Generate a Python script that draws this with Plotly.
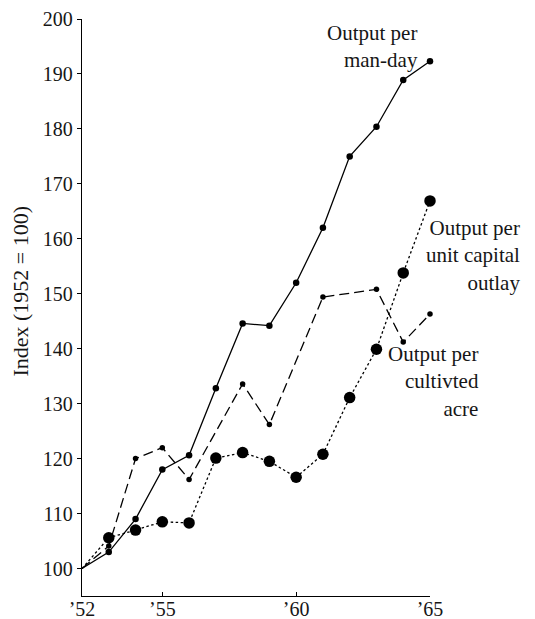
import plotly.graph_objects as go

# ---- data ----
years = [1952, 1953, 1954, 1955, 1956, 1957, 1958, 1959, 1960, 1961, 1962, 1963, 1964, 1965]
output_per_man_day = [100, 103, 109, 118, 120.6, 132.8, 144.6, 144.2, 152, 162, 175, 180.4, 188.9, 192.3]

capital_years = [1952, 1953, 1954, 1955, 1956, 1958, 1959, 1961, 1963, 1964, 1965]
output_per_capital = [100, 104.1, 120, 122, 116.2, 133.6, 126.2, 149.4, 150.8, 141.2, 146.3]

output_per_acre = [100, 105.6, 107, 108.5, 108.3, 120.1, 121.1, 119.5, 116.6, 120.8, 131.1, 139.9, 153.8, 166.9]

x_tickvals = [1952, 1955, 1960, 1965]
x_ticktext = ["’52", "’55", "’60", "’65"]
y_tickvals = [100, 110, 120, 130, 140, 150, 160, 170, 180, 190, 200]

FONT = "Liberation Serif"
INK = "#161616"

fig = go.Figure()

def mk(size, n):
    return dict(color="black", opacity=1, size=[0] + [size] * (n - 1), line=dict(width=0))

fig.add_trace(go.Scatter(
    x=years, y=output_per_man_day, mode="lines+markers", name="Output per man-day",
    line=dict(color="black", width=1.3),
    marker=mk(6.5, len(years)),
    cliponaxis=False,
))
fig.add_trace(go.Scatter(
    x=capital_years, y=output_per_capital, mode="lines+markers", name="Output per cultivted acre",
    line=dict(color="black", width=1.3, dash="10px,5px"),
    marker=mk(5.5, len(capital_years)),
    cliponaxis=False,
))
fig.add_trace(go.Scatter(
    x=years, y=output_per_acre, mode="lines+markers", name="Output per unit capital outlay",
    line=dict(color="black", width=1.3, dash="2.5px,2.5px"),
    marker=mk(11.5, len(years)),
    cliponaxis=False,
))

ann_font = dict(family=FONT, size=21, color=INK)
fig.update_layout(
    width=535, height=619,
    margin=dict(l=82, r=105, t=19, b=23),
    paper_bgcolor="white", plot_bgcolor="white",
    showlegend=False,
    font=dict(family=FONT, color=INK, size=20),
    xaxis=dict(
        range=[1952, 1965], tickvals=x_tickvals, ticktext=x_ticktext,
        ticks="inside", ticklen=4, tickwidth=1.3, tickcolor="black",
        showline=True, linecolor="black", linewidth=1.3,
        showgrid=False, zeroline=False, automargin=False,
        ticklabelstandoff=-5,
        tickfont=dict(family=FONT, size=20, color=INK),
    ),
    yaxis=dict(
        range=[95, 200], tickvals=y_tickvals,
        ticks="outside", ticklen=4, tickwidth=1.3, tickcolor="black",
        showline=True, linecolor="black", linewidth=1.3,
        showgrid=False, zeroline=False, automargin=False,
        tickfont=dict(family=FONT, size=20, color=INK),
    ),
    annotations=[
        dict(text="Output per<br>man-day", xref="paper", yref="paper",
             x=0.9712, y=0.9523, xanchor="right", yanchor="middle", align="right",
             showarrow=False, font=ann_font),
        dict(text="Output per<br>unit capital<br>outlay", xref="paper", yref="paper",
             x=1.2643, y=0.5893, xanchor="right", yanchor="middle", align="right",
             showarrow=False, font=ann_font),
        dict(text="Output per<br>cultivted<br>acre", xref="paper", yref="paper",
             x=1.1465, y=0.3709, xanchor="right", yanchor="middle", align="right",
             showarrow=False, font=ann_font),
        dict(text="Index (1952 = 100)", xref="paper", yref="paper",
             x=-0.178, y=0.5277, xanchor="center", yanchor="middle", textangle=-90,
             showarrow=False, font=dict(family=FONT, size=22, color=INK)),
    ],
)

fig.write_html("out.html", config={"displayModeBar": False},
               post_script="document.body.style.margin='0px';")
